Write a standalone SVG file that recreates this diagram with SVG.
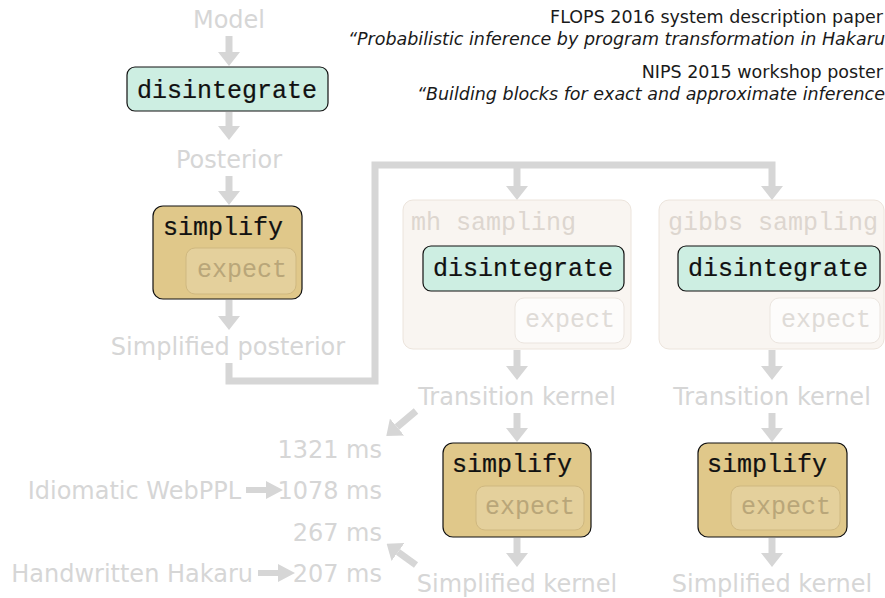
<svg xmlns="http://www.w3.org/2000/svg" width="885" height="598" viewBox="0 0 885 598">
<style>
.lbl{font-family:"DejaVu Sans","Liberation Sans",sans-serif;font-size:24px;fill:#d6d6d6}
.ref{font-family:"DejaVu Sans","Liberation Sans",sans-serif;font-size:17.5px;fill:#1a1a1a;text-anchor:end}
.it{font-style:italic}
.mono{font-family:"Liberation Mono","Courier New",monospace;font-size:25px}
.dark{fill:#111;stroke:#111;stroke-width:0.2}
.dis{fill:#cdeee2;stroke:#111;stroke-width:1.2}
.simp{fill:#e0c88a;stroke:#111;stroke-width:1.2}
.sexp{fill:#e4d09c;stroke:#cfb880;stroke-width:1}
.sexpt{fill:#b9a679}
.samp{fill:#f9f5f1;stroke:#ece4dc;stroke-width:1}
.sampt{fill:#ddd6cf}
.pexp{fill:#fdfcfb;stroke:#ebe5df;stroke-width:1}
.pexpt{fill:#dfdbd7}
.mid{text-anchor:middle}
.end{text-anchor:end}
.con{fill:none;stroke:#d6d6d6;stroke-width:7;stroke-linejoin:miter}
</style>
<defs>
<marker id="ah" markerUnits="userSpaceOnUse" markerWidth="14" markerHeight="22" viewBox="0 0 14 22" refX="0" refY="11" orient="auto"><path d="M0,0 L14,11 L0,22 Z" fill="#d6d6d6"/></marker>
</defs>

<g id="references">
<text class="ref" x="883" y="23">FLOPS 2016 system description paper</text>
<text class="ref it" x="885" y="45">“Probabilistic inference by program transformation in Hakaru</text>
<text class="ref" x="883" y="78">NIPS 2015 workshop poster</text>
<text class="ref it" x="885" y="100">“Building blocks for exact and approximate inference</text>
</g>

<g id="connectors">
<path class="con" d="M229,36 V52" marker-end="url(#ah)"/>
<path class="con" d="M229,112 V126" marker-end="url(#ah)"/>
<path class="con" d="M229,176 V191" marker-end="url(#ah)"/>
<path class="con" d="M229,300 V316" marker-end="url(#ah)"/>
<path class="con" d="M229,363 V381 H375 V165 H772 V186" marker-end="url(#ah)"/>
<path class="con" d="M517,165 V186" marker-end="url(#ah)"/>
<path class="con" d="M517,350 V366" marker-end="url(#ah)"/>
<path class="con" d="M517,413 V428" marker-end="url(#ah)"/>
<path class="con" d="M517,538 V553" marker-end="url(#ah)"/>
<path class="con" d="M772,350 V366" marker-end="url(#ah)"/>
<path class="con" d="M772,413 V428" marker-end="url(#ah)"/>
<path class="con" d="M772,538 V553" marker-end="url(#ah)"/>
<path class="con" d="M416,411 L397,427" marker-end="url(#ah)"/>
<path class="con" d="M416,565 L398,552" marker-end="url(#ah)"/>
<path d="M246,487 H266 V481 L283,490 L266,499 V493 H246 Z" fill="#d6d6d6"/>
<path d="M258,570 H278 V564 L295,573 L278,582 V576 H258 Z" fill="#d6d6d6"/>
</g>

<g id="model"><text class="lbl mid" x="229" y="28">Model</text></g>

<g id="disintegrate-top">
<rect class="dis" x="127" y="67" width="201" height="44" rx="8"/>
<text class="mono dark" x="137" y="98">disintegrate</text>
</g>

<g id="posterior"><text class="lbl mid" x="229" y="168">Posterior</text></g>

<g id="simplify-top">
<rect class="simp" x="153" y="206" width="149" height="93" rx="10"/>
<text class="mono dark" x="163" y="235">simplify</text>
<rect class="sexp" x="186" y="248" width="110" height="46" rx="9"/>
<text class="mono sexpt" x="197" y="277">expect</text>
</g>

<g id="simplified-posterior"><text class="lbl mid" x="228" y="355">Simplified posterior</text></g>

<g id="mh-sampling">
<rect class="samp" x="403" y="200" width="228" height="149" rx="10"/>
<text class="mono sampt" x="411" y="230">mh sampling</text>
<rect class="dis" x="423" y="246" width="201" height="45" rx="8"/>
<text class="mono dark" x="433" y="276">disintegrate</text>
<rect class="pexp" x="515" y="298" width="109" height="45" rx="9"/>
<text class="mono pexpt" x="525" y="327">expect</text>
</g>

<g id="gibbs-sampling">
<rect class="samp" x="659" y="200" width="225" height="149" rx="10"/>
<text class="mono sampt" x="668" y="230">gibbs sampling</text>
<rect class="dis" x="678" y="246" width="202" height="45" rx="8"/>
<text class="mono dark" x="688" y="276">disintegrate</text>
<rect class="pexp" x="770" y="298" width="110" height="45" rx="9"/>
<text class="mono pexpt" x="781" y="327">expect</text>
</g>

<g id="transition-kernel-mh"><text class="lbl mid" x="517" y="405">Transition kernel</text></g>
<g id="transition-kernel-gibbs"><text class="lbl mid" x="772" y="405">Transition kernel</text></g>

<g id="simplify-mh">
<rect class="simp" x="443" y="443" width="148" height="94" rx="10"/>
<text class="mono dark" x="452" y="472">simplify</text>
<rect class="sexp" x="476" y="486" width="108" height="44" rx="9"/>
<text class="mono sexpt" x="485" y="514">expect</text>
</g>

<g id="simplify-gibbs">
<rect class="simp" x="698" y="443" width="149" height="94" rx="10"/>
<text class="mono dark" x="707" y="472">simplify</text>
<rect class="sexp" x="731" y="486" width="109" height="44" rx="9"/>
<text class="mono sexpt" x="741" y="514">expect</text>
</g>

<g id="simplified-kernel-mh"><text class="lbl mid" x="517" y="592">Simplified kernel</text></g>
<g id="simplified-kernel-gibbs"><text class="lbl mid" x="772" y="592">Simplified kernel</text></g>

<g id="timings">
<text class="lbl end" x="382" y="458">1321 ms</text>
<text class="lbl end" x="241" y="499">Idiomatic WebPPL</text>
<text class="lbl end" x="382" y="499">1078 ms</text>
<text class="lbl end" x="382" y="541">267 ms</text>
<text class="lbl end" x="253" y="582">Handwritten Hakaru</text>
<text class="lbl end" x="382" y="582">207 ms</text>
</g>
</svg>
